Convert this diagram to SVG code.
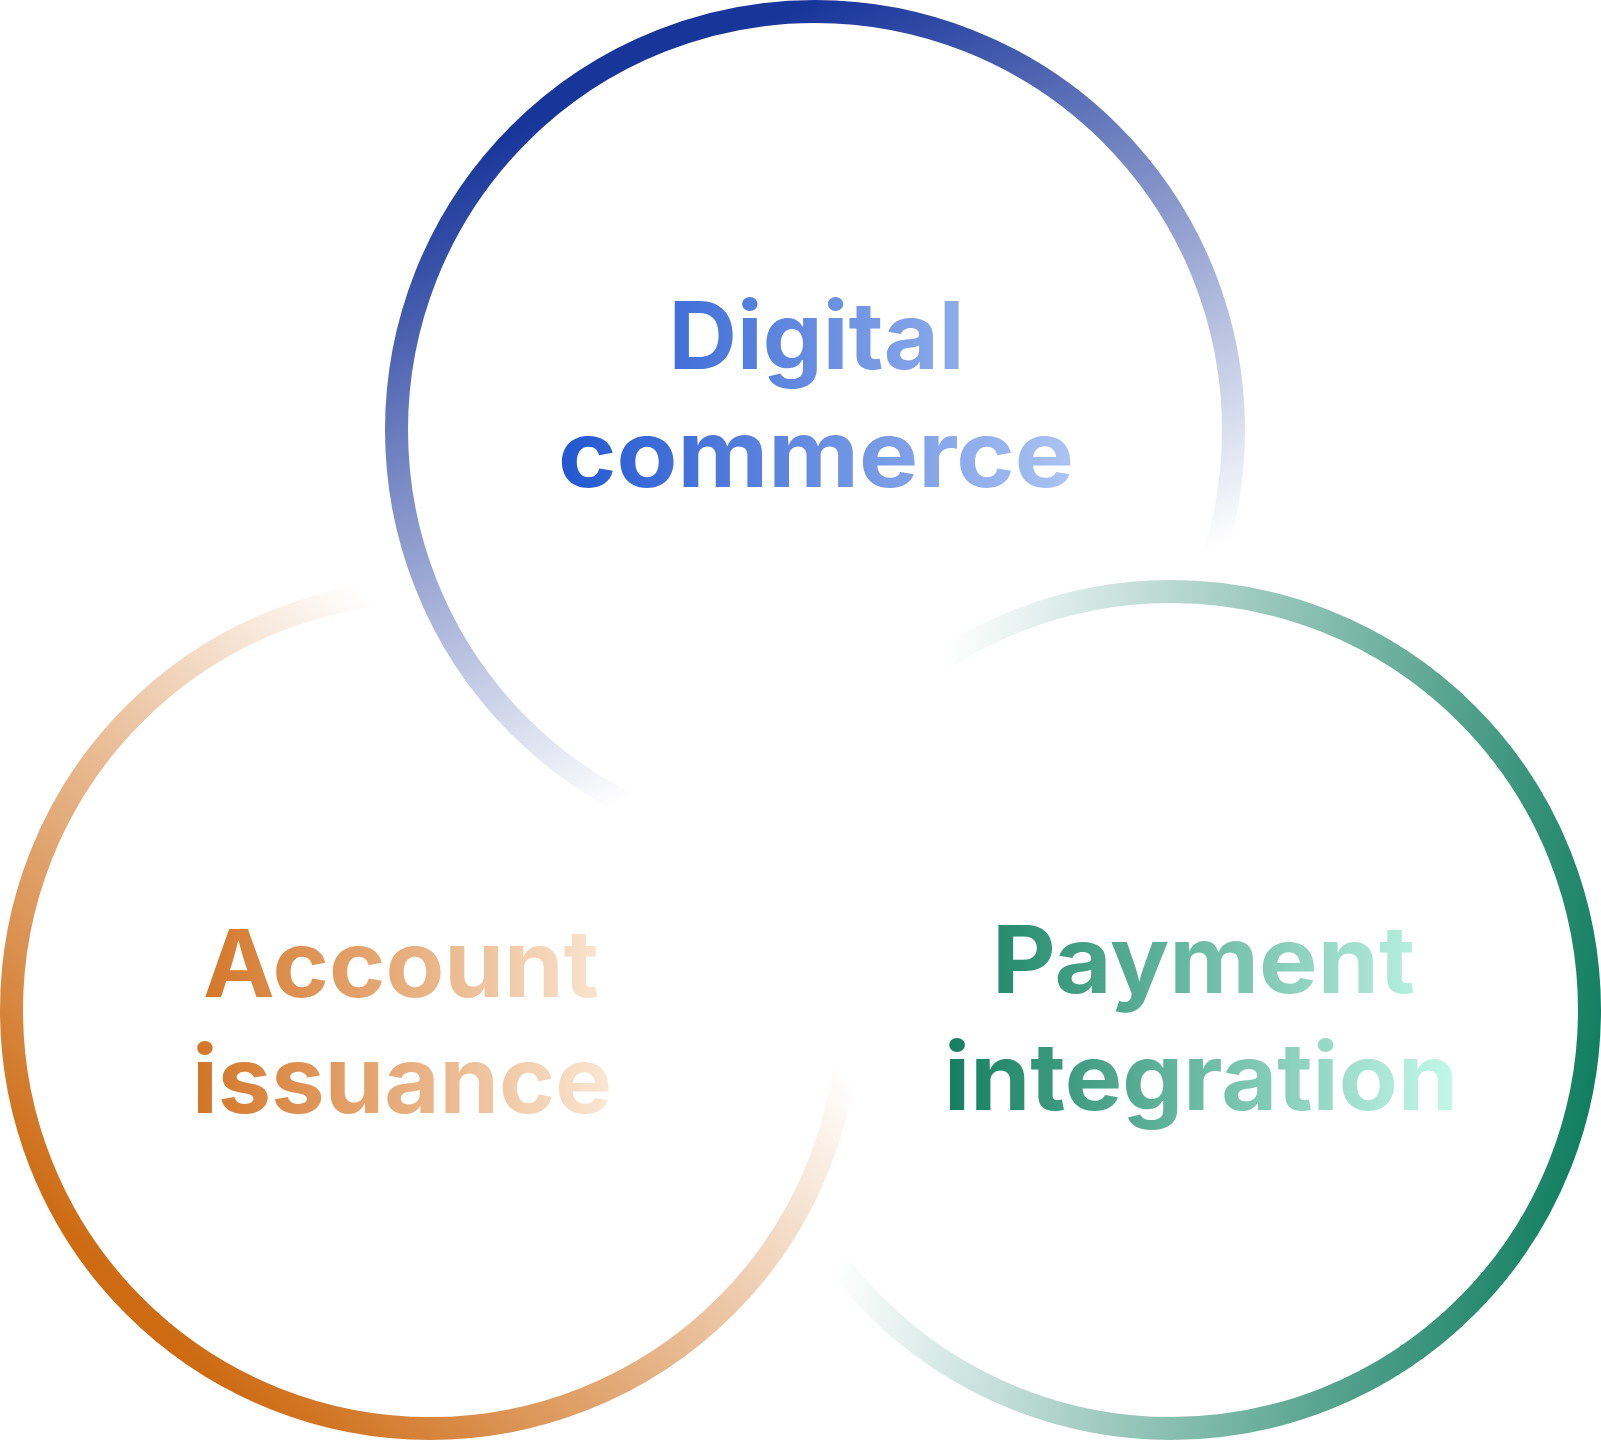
<svg xmlns="http://www.w3.org/2000/svg" width="1601" height="1440" viewBox="0 0 1601 1440">
  <defs>
    <linearGradient id="ringBlue" gradientUnits="userSpaceOnUse" x1="353" y1="200" x2="613" y2="807">
      <stop offset="0" stop-color="#18359a" stop-opacity="1"/>
      <stop offset="1" stop-color="#18359a" stop-opacity="0"/>
    </linearGradient>
    <linearGradient id="ringOrange" gradientUnits="userSpaceOnUse" x1="130" y1="1300" x2="600" y2="830">
      <stop offset="0" stop-color="#cd6a12" stop-opacity="1"/>
      <stop offset="1" stop-color="#cd6a12" stop-opacity="0"/>
    </linearGradient>
    <linearGradient id="ringGreen" gradientUnits="userSpaceOnUse" x1="1590" y1="1150" x2="881" y2="1025">
      <stop offset="0" stop-color="#0f7d5f" stop-opacity="1"/>
      <stop offset="1" stop-color="#0f7d5f" stop-opacity="0"/>
    </linearGradient>
    <linearGradient id="textBlue" gradientUnits="userSpaceOnUse" x1="560" y1="0" x2="1070" y2="0">
      <stop offset="0" stop-color="#2257d0"/>
      <stop offset="1" stop-color="#abc3f2"/>
    </linearGradient>
    <linearGradient id="textOrange" gradientUnits="userSpaceOnUse" x1="197" y1="0" x2="607" y2="0">
      <stop offset="0" stop-color="#d37527"/>
      <stop offset="1" stop-color="#fae6d2"/>
    </linearGradient>
    <linearGradient id="textGreen" gradientUnits="userSpaceOnUse" x1="949" y1="0" x2="1453" y2="0">
      <stop offset="0" stop-color="#157f60"/>
      <stop offset="1" stop-color="#c3f8e7"/>
    </linearGradient>
  </defs>
  <style>
    .ring { fill: none; stroke-width: 23; }
    .label { font-family: "Inter", "Open Sans", "Liberation Sans", sans-serif; font-weight: 700; font-size: 93px; text-anchor: middle; }
  </style>
  <rect x="0" y="0" width="1601" height="1440" fill="#ffffff"/>
  <g id="connectors"></g>
  <g id="node-digital-commerce">
    <circle class="ring" cx="815" cy="430" r="418.5" stroke="url(#ringBlue)"/>
    <text class="label" fill="url(#textBlue)" x="816.5" y="369" textLength="296" lengthAdjust="spacingAndGlyphs">Digital</text>
    <text class="label" fill="url(#textBlue)" x="816" y="487" textLength="516" lengthAdjust="spacingAndGlyphs">commerce</text>
  </g>
  <g id="node-account-issuance">
    <circle class="ring" cx="430" cy="1010" r="418.5" stroke="url(#ringOrange)"/>
    <text class="label" fill="url(#textOrange)" x="401" y="997" textLength="396" lengthAdjust="spacingAndGlyphs">Account</text>
    <text class="label" fill="url(#textOrange)" x="402" y="1113" textLength="420" lengthAdjust="spacingAndGlyphs">issuance</text>
  </g>
  <g id="node-payment-integration">
    <circle class="ring" cx="1171" cy="1010" r="418.5" stroke="url(#ringGreen)"/>
    <text class="label" fill="url(#textGreen)" x="1203.5" y="993" textLength="423" lengthAdjust="spacingAndGlyphs">Payment</text>
    <text class="label" fill="url(#textGreen)" x="1201" y="1110" textLength="514" lengthAdjust="spacingAndGlyphs">integration</text>
  </g>
</svg>
